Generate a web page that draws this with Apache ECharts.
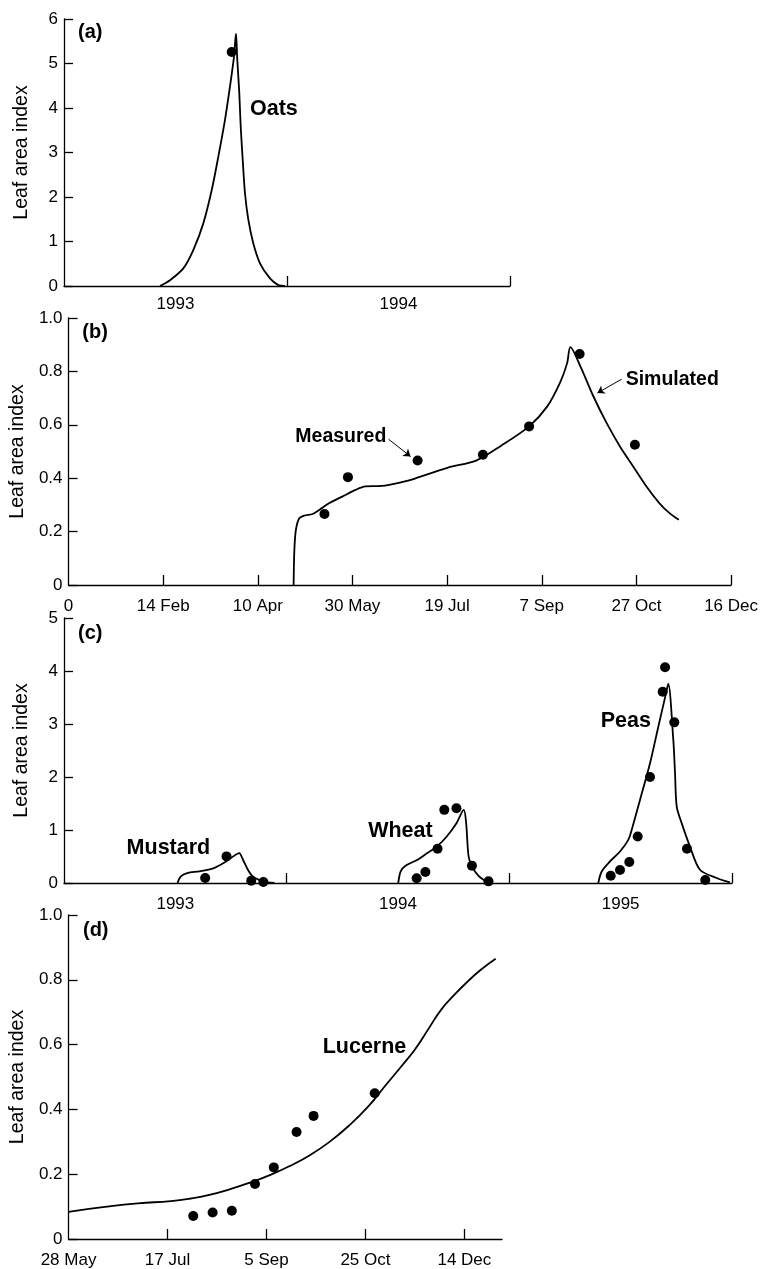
<!DOCTYPE html>
<html>
<head>
<meta charset="utf-8">
<script src="https://cdn.jsdelivr.net/npm/echarts@6/dist/echarts.min.js"></script>
<style>
  html, body { margin: 0; padding: 0; background: #fff; }
  #chart { width: 761px; height: 1269px; }
</style>
</head>
<body>
<div id="chart"></div>
<script>
// x values are days from the first tick of each panel

// (a) oats, 1993-1994
const yearsA = ['1993', '1994'];
const oatsSimDay = [157.1, 173.5, 195.3, 211.6, 228, 241.8, 252.6, 263.5, 271.7, 278.3, 281.5, 283.6, 286.9, 289.2, 292.5, 296.2, 301.7, 309.8, 320.8, 337.2, 350.8, 361.7];
const oatsSimLai = [0, 0.13, 0.395, 0.806, 1.407, 2.157, 2.907, 3.734, 4.484, 5.16, 5.67, 5.09, 4.34, 3.59, 2.84, 2.09, 1.49, 0.96, 0.51, 0.17, 0.02, 0];
const oatsObsDay = [274.5];
const oatsObsLai = [5.26];

// (b) one season, date ticks every 50 days
const datesB = ['0', '14 Feb', '10 Apr', '30 May', '19 Jul', '7 Sep', '27 Oct', '16 Dec'];
const simBDay = [118.9, 119.3, 120.1, 121.9, 124.5, 128.9, 132.4, 137.6, 144.6, 151.6, 156.8, 165.6, 177.7, 181.3, 200.5, 215.3, 228.4, 243.3, 252.9, 259.9, 263.4, 265.1, 270.4, 277.3, 284.3, 291.3, 298.3, 305.3, 312.2, 317.5, 322.4];
const simBLai = [0, 0.131, 0.206, 0.25, 0.26, 0.266, 0.281, 0.306, 0.331, 0.356, 0.369, 0.371, 0.388, 0.395, 0.44, 0.466, 0.521, 0.594, 0.669, 0.762, 0.831, 0.891, 0.819, 0.706, 0.606, 0.519, 0.444, 0.369, 0.306, 0.269, 0.244];
const obsBDay = [135.2, 147.6, 184.4, 218.9, 243.3, 270, 299.2];
const obsBLai = [0.266, 0.404, 0.466, 0.4875, 0.594, 0.865, 0.525];

// (c) mustard, wheat, peas, 1993-1995
const yearsC = ['1993', '1994', '1995'];
const mustardSimDay = [186.1, 191.6, 202, 221.9, 245.7, 261.6, 273.5, 287.1, 293.4, 301.4, 309.3, 321.3, 333.2, 345.1];
const mustardSimLai = [0, 0.125, 0.188, 0.22, 0.282, 0.376, 0.47, 0.565, 0.439, 0.251, 0.125, 0.05, 0.0125, 0];
const mustardObsDay = [231.4, 266.4, 306.9, 326.8];
const mustardObsLai = [0.094, 0.502, 0.044, 0.019];
const wheatSimDay = [547.9, 551.9, 559.8, 579.7, 595.6, 611.5, 627.4, 643.3, 655.3, 659.2, 663.2, 668.8, 679.1, 691, 699];
const wheatSimLai = [0, 0.22, 0.326, 0.439, 0.565, 0.69, 0.878, 1.129, 1.38, 1.129, 0.502, 0.314, 0.138, 0.038, 0];
const wheatObsDay = [578.1, 592.4, 612.3, 623.4, 643.3, 668.7, 695.8];
const wheatObsLai = [0.088, 0.207, 0.646, 1.38, 1.41, 0.326, 0.031];
const peasSimDay = [875.8, 881.4, 895, 911.4, 925, 930.6, 944.2, 960.6, 974.2, 986.8, 990.5, 998.8, 1001.6, 1004.4, 1012.5, 1026.1, 1042.5, 1069.9, 1091.7];
const peasSimLai = [0, 0.218, 0.407, 0.595, 0.815, 1.003, 1.568, 2.259, 2.948, 3.577, 3.76, 2.698, 2.07, 1.442, 1.13, 0.689, 0.25, 0.094, 0.01];
const peasObsDay = [896.2, 911.4, 926.7, 940.4, 960.6, 981.4, 985.3, 1000.4, 1021.2, 1051.2];
const peasObsLai = [0.137, 0.245, 0.395, 0.877, 2.001, 3.607, 4.07, 3.031, 0.646, 0.056];

// (d) lucerne, from 28 May
const datesD = ['28 May', '17 Jul', '5 Sep', '25 Oct', '14 Dec'];
const lucerneSimDay = [0, 18.3, 35, 51.7, 61.7, 71.7, 81.7, 91.7, 101.7, 111.7, 121.7, 131.7, 141.7, 151.7, 160, 168.3, 175, 181.7, 188.3, 195, 201.7, 208.3, 215.8];
const lucerneSimLai = [0.084, 0.099, 0.11, 0.117, 0.125, 0.137, 0.154, 0.174, 0.197, 0.225, 0.258, 0.299, 0.35, 0.411, 0.473, 0.534, 0.585, 0.647, 0.708, 0.754, 0.795, 0.831, 0.865];
const lucerneObsDay = [63, 72.8, 82.5, 94.2, 103.7, 115.2, 123.8, 154.7];
const lucerneObsLai = [0.071, 0.082, 0.087, 0.17, 0.221, 0.33, 0.38, 0.45];

// text labels per panel: [x, y, text]
const textA = [[22.9, 5.69, '(a)'], [304.4, 3.98, 'Oats']];
const textB = [[7.3, 0.944, '(b)']];
const notesB = [[119.8, 0.555, 'Measured'], [294.3, 0.771, 'Simulated']];
const textC = [[23, 4.71, '(c)'], [102.6, 0.659, 'Mustard'], [498.6, 0.971, 'Wheat'], [879.8, 3.06, 'Peas']];
const textD = [[7.3, 0.951, '(d)'], [128.4, 0.591, 'Lucerne']];

const zip = (xs, ys) => xs.map((x, i) => [x, ys[i]]);
const font = '"Liberation Sans", Arial, Helvetica, sans-serif';

function xAxis(grid, max, tickVals, labelVals, fmt, gap) {
  return {
    type: 'value', gridIndex: grid, min: 0, max: max,
    axisLine: { lineStyle: { color: '#000', width: 1.3 } },
    axisTick: { inside: true, length: 10, customValues: tickVals, lineStyle: { color: '#000', width: 1.3 } },
    axisLabel: { customValues: labelVals, formatter: fmt, color: '#000', fontSize: 17, margin: gap, fontFamily: font },
    splitLine: { show: false }
  };
}

function yAxis(grid, max, step, fmt) {
  return {
    type: 'value', gridIndex: grid, min: 0, max: max, interval: step,
    name: 'Leaf area index', nameLocation: 'middle', nameGap: 32,
    nameTextStyle: { fontSize: 19.5, color: '#000', fontFamily: font },
    axisLine: { show: true, lineStyle: { color: '#000', width: 1.3 } },
    axisTick: { show: true, inside: true, length: 9, lineStyle: { color: '#000', width: 1.3 } },
    axisLabel: { formatter: fmt, color: '#000', fontSize: 17, margin: 6, fontFamily: font },
    splitLine: { show: false }
  };
}

const dec = v => (v === 0 ? '0' : v.toFixed(1));

function sim(i, xs, ys, smooth) {
  return {
    type: 'line', xAxisIndex: i, yAxisIndex: i, data: zip(xs, ys),
    showSymbol: false, smooth: smooth || 0.3, silent: true,
    lineStyle: { color: '#000', width: 1.8 }
  };
}

function obs(i, xs, ys) {
  return {
    type: 'scatter', xAxisIndex: i, yAxisIndex: i, data: zip(xs, ys),
    symbolSize: 10, silent: true, itemStyle: { color: '#000', opacity: 1 }
  };
}

function text(i, rows, size) {
  return {
    type: 'scatter', xAxisIndex: i, yAxisIndex: i, data: rows,
    symbolSize: 0, silent: true, itemStyle: { opacity: 1 },
    label: {
      show: true, position: 'right', distance: 0, formatter: p => p.data[2],
      color: '#000', fontSize: size, fontWeight: 'bold', fontFamily: font
    }
  };
}

const chart = echarts.init(document.getElementById('chart'));

const measuredB = obs(1, obsBDay, obsBLai);
measuredB.markLine = {
  silent: true, symbol: ['none', 'arrow'], symbolSize: 7,
  label: { show: false },
  lineStyle: { color: '#000', width: 1, type: 'solid', opacity: 1 },
  data: [
    [{ coord: [169.1, 0.546] }, { coord: [180.7, 0.481] }],
    [{ coord: [292.2, 0.771] }, { coord: [279.4, 0.719] }]
  ]
};

chart.setOption({
  animation: false,
  backgroundColor: '#fff',
  textStyle: { fontFamily: font },
  grid: [
    { left: 64, top: 19, width: 446, height: 267 },
    { left: 64, top: 318, width: 668, height: 267 },
    { left: 64, top: 618, width: 668, height: 265 },
    { left: 63, top: 915, width: 439, height: 326 }
  ],
  xAxis: [
    xAxis(0, 730, [365, 730], [182.5, 547.5], v => yearsA[Math.floor(v / 365)], 10),
    xAxis(1, 350, [50, 100, 150, 200, 250, 300, 350], [0, 50, 100, 150, 200, 250, 300, 350], v => datesB[Math.round(v / 50)], 13),
    xAxis(2, 1095, [365, 730, 1095], [182.5, 547.5, 912.5], v => yearsC[Math.floor(v / 365)], 13),
    xAxis(3, 219, [50, 100, 150, 200], [0, 50, 100, 150, 200], v => datesD[Math.round(v / 50)], 13)
  ],
  yAxis: [
    yAxis(0, 6, 1, v => String(v)),
    yAxis(1, 1, 0.2, dec),
    yAxis(2, 5, 1, v => String(v)),
    yAxis(3, 1, 0.2, dec)
  ],
  series: [
    sim(0, oatsSimDay, oatsSimLai),
    obs(0, oatsObsDay, oatsObsLai),
    text(0, textA.slice(0, 1), 20),
    text(0, textA.slice(1), 21.5),

    sim(1, simBDay, simBLai),
    measuredB,
    text(1, textB, 20),
    text(1, notesB, 19.5),

    sim(2, mustardSimDay, mustardSimLai),
    sim(2, wheatSimDay, wheatSimLai),
    sim(2, peasSimDay, peasSimLai),
    obs(2, mustardObsDay, mustardObsLai),
    obs(2, wheatObsDay, wheatObsLai),
    obs(2, peasObsDay, peasObsLai),
    text(2, textC.slice(0, 1), 20),
    text(2, textC.slice(1), 21.5),

    sim(3, lucerneSimDay, lucerneSimLai, 0.5),
    obs(3, lucerneObsDay, lucerneObsLai),
    text(3, textD.slice(0, 1), 20),
    text(3, textD.slice(1), 21.5)
  ]
});
</script>
</body>
</html>
